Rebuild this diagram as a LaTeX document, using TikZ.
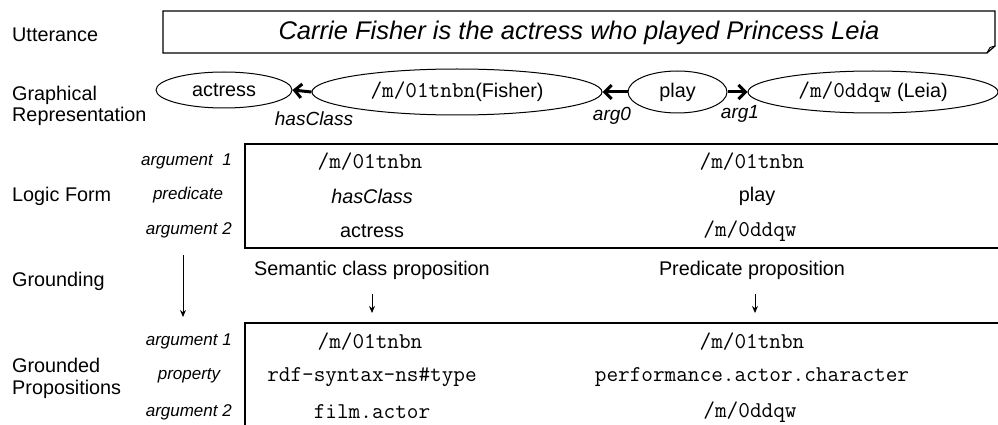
\documentclass[tikz,border=0pt]{standalone}
\usepackage{fontspec}
\setmainfont{Liberation Sans}
\usetikzlibrary{shapes.geometric,arrows.meta}
\begin{document}
\begin{tikzpicture}[x=1pt,y=-1pt,
  side/.style={font=\fontsize{19.8}{22}\selectfont, anchor=west, inner sep=0pt},
  rowlbl/.style={font=\fontsize{17}{19}\selectfont\itshape, anchor=east, inner sep=0pt},
  rowmid/.style={font=\fontsize{17}{19}\selectfont\itshape, inner sep=0pt},
  cell/.style={font=\fontsize{19.8}{22}\selectfont, inner sep=0pt},
  mono/.style={font=\fontsize{22.6}{24}\selectfont\ttfamily, inner sep=0pt},
  elab/.style={font=\fontsize{19}{21}\selectfont\itshape, inner sep=0pt},
  ell/.style={ellipse, draw, line width=1pt, inner sep=0pt, font=\fontsize{19.8}{22}\selectfont},
  garr/.style={line width=3pt, -{Straight Barb[length=7pt,width=14pt]}},
  darr/.style={-{Stealth[length=7pt,width=6pt]}, line width=1pt},
  frame/.style={line width=1.2pt}
]
\useasboundingbox (0,0) rectangle (998,425);

% Utterance row
\node[side] (lutt) at (12,35) {Utterance};
\draw[frame] (987,53) -- (163,53) -- (163,11) -- (995,11) -- (995,46) -- cycle;
\draw[line width=1pt] (995,46) -- (990,47.5) -- (987,53);
\node[font=\fontsize{25.5}{28}\selectfont\itshape, inner sep=0pt] (utt) at (579,33) {Carrie Fisher is the actress who played Princess Leia};

% Graphical representation
\node[side] (lgr1) at (12,95) {Graphical};
\node[side] (lgr2) at (12,116) {Representation};
\node[ell, minimum width=136pt, minimum height=36pt] (actress) at (224,90) {\raisebox{-2pt}{actress}};
\node[ell, minimum width=290pt, minimum height=46pt] (fisher) at (457,92) {{\fontsize{22.6}{24}\selectfont\ttfamily /m/01tnbn}(Fisher)};
\node[ell, minimum width=99pt, minimum height=42pt] (play) at (677.5,92) {play};
\node[ell, minimum width=250pt, minimum height=42pt] (leia) at (873,92) {{\fontsize{22.6}{24}\selectfont\ttfamily /m/0ddqw} (Leia)};
\draw[garr] (fisher.west) -- (actress.east);
\draw[garr] (play.west) -- (fisher.east);
\draw[garr] (play.east) -- (leia.west);
\node[elab] (hc) at (314,119) {hasClass};
\node[elab] (a0) at (612,116) {arg0};
\node[elab] (a1) at (740,114) {arg1};

% Logic form
\node[side] (llf) at (12,196) {Logic Form};
\draw[frame] (998,144) -- (245,144) -- (245,248) -- (998,248);
\node[rowlbl] (lfa1) at (232,161) {argument\ \ 1};
\node[rowmid] (lfp) at (188,195) {predicate};
\node[rowlbl] (lfa2) at (232,230) {argument 2};
\node[mono] (c11) at (370,162) {/m/01tnbn};
\node[cell, font=\fontsize{19.8}{22}\selectfont\itshape] (c12) at (372,196) {hasClass};
\node[cell] (c13) at (372,231) {actress};
\node[mono] (c21) at (752,162) {/m/01tnbn};
\node[cell] (c22) at (757,196) {play};
\node[mono] (c23) at (750,231) {/m/0ddqw};

% Grounding
\node[side] (lgd) at (12,281) {Grounding};
\node[cell] (sem) at (372,270) {Semantic class proposition};
\node[cell] (pred) at (752,270) {Predicate proposition};
\coordinate (g1) at (183,255);
\coordinate (g2) at (183,317);
\draw[darr] (g1) -- (g2);
\coordinate (s1) at (372,294);
\coordinate (s2) at (372,313);
\draw[darr] (s1) -- (s2);
\coordinate (p1) at (755,294);
\coordinate (p2) at (755,313);
\draw[darr] (p1) -- (p2);

% Grounded propositions
\node[side] (lgp1) at (12,365) {Grounded};
\node[side] (lgp2) at (12,389) {Propositions};
\draw[frame] (998,323) -- (245,323) -- (245,425);
\node[rowlbl] (gpa1) at (232,341) {argument 1};
\node[rowmid] (gpp) at (189,376) {property};
\node[rowlbl] (gpa2) at (232,412) {argument 2};
\node[mono] (d11) at (370,342) {/m/01tnbn};
\node[mono] (d12) at (372,377) {rdf-syntax-ns\#type};
\node[mono] (d13) at (372,412) {film.actor};
\node[mono] (d21) at (752,342) {/m/01tnbn};
\node[mono] (d22) at (752,377) {performance.actor.character};
\node[mono] (d23) at (750,412) {/m/0ddqw};
\end{tikzpicture}
\end{document}
